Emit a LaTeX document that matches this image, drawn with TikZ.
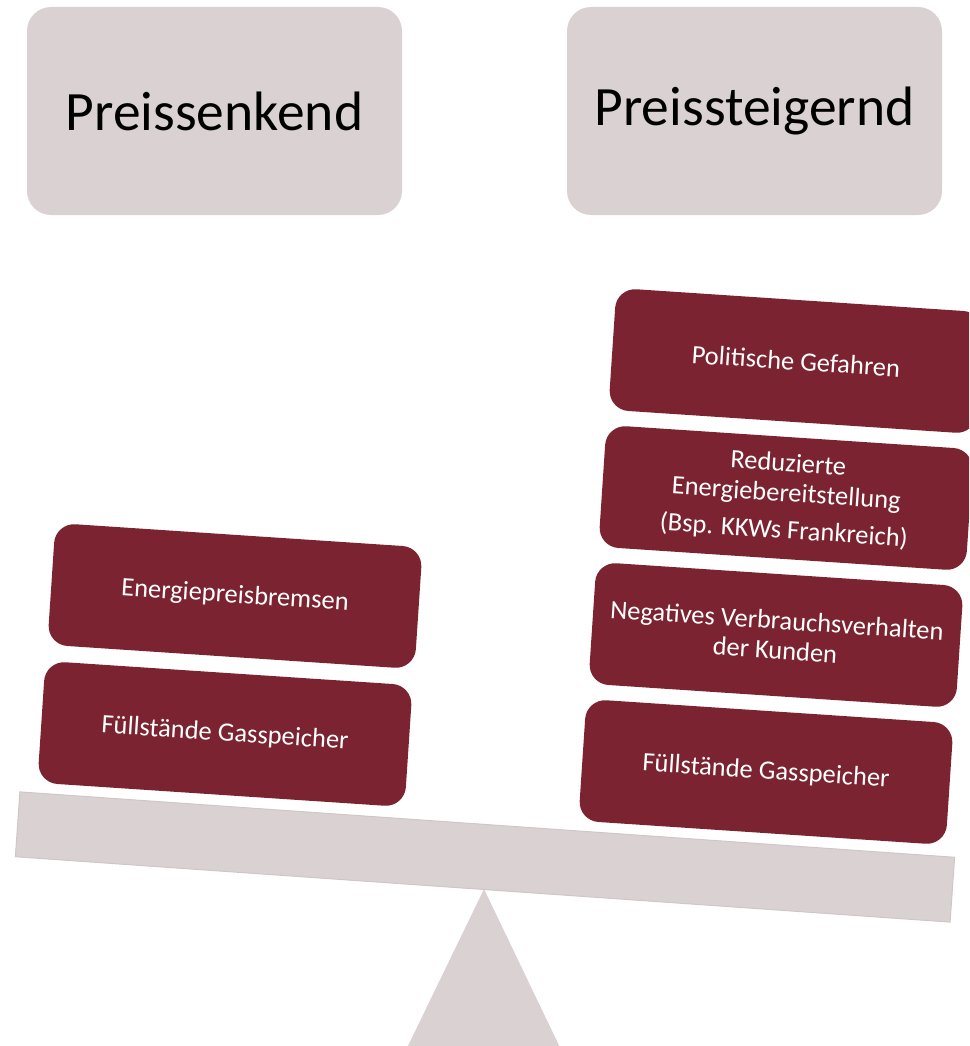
\documentclass[tikz,border=0pt]{standalone}
\usepackage{fontspec}
\setmainfont{Carlito}
\definecolor{hdrgray}{HTML}{DAD2D2}
\definecolor{beamedge}{HTML}{D0C6C6}
\definecolor{wine}{HTML}{7B2330}
\begin{document}
\begin{tikzpicture}[x=1pt,y=-1pt,
  hdr/.style={rectangle, rounded corners=24pt, fill=hdrgray, draw=none,
    minimum width=375pt, minimum height=208pt, inner sep=0pt,
    font=\fontsize{55.5}{60}\selectfont, text=black},
  factor/.style={rectangle, rounded corners=20pt, fill=wine, draw=none,
    minimum width=368pt, minimum height=122pt, inner sep=0pt, rotate=-3.8,
    text=white, align=center, font=\fontsize{26.5}{30}\selectfont},
  beamstyle/.style={rectangle, fill=hdrgray, draw=beamedge, line width=1pt,
    minimum width=937pt, minimum height=65pt, inner sep=0pt, rotate=-4}]
\useasboundingbox (0,0) rectangle (969,1046);
\clip (0,0) rectangle (969,1046);
% headers
\node[hdr] (sink) at (214.5,111) {Preissenkend};
\node[hdr] (rise) at (754.5,111) {Preissteigernd};
% fulcrum
\fill[hdrgray] (484,889) -- (578,1085) -- (389,1085) -- cycle;
% beam
\node[beamstyle] (beam) at (485,857) {};
% left pan
\node[factor] (ebr) at (235,596) {Energiepreisbremsen};
\node[factor] (gsl) at (225,734) {Füllstände Gasspeicher};
% right pan
\node[factor] (pol) at (796,361) {Politische Gefahren};
\node[factor] (red) at (786,498) {Reduzierte\\Energiebereitstellung\\[7pt](Bsp. KKWs Frankreich)};
\node[factor] (neg) at (776,635) {Negatives Verbrauchsverhalten\\der Kunden};
\node[factor] (gsr) at (766,772) {Füllstände Gasspeicher};
\end{tikzpicture}
\end{document}
